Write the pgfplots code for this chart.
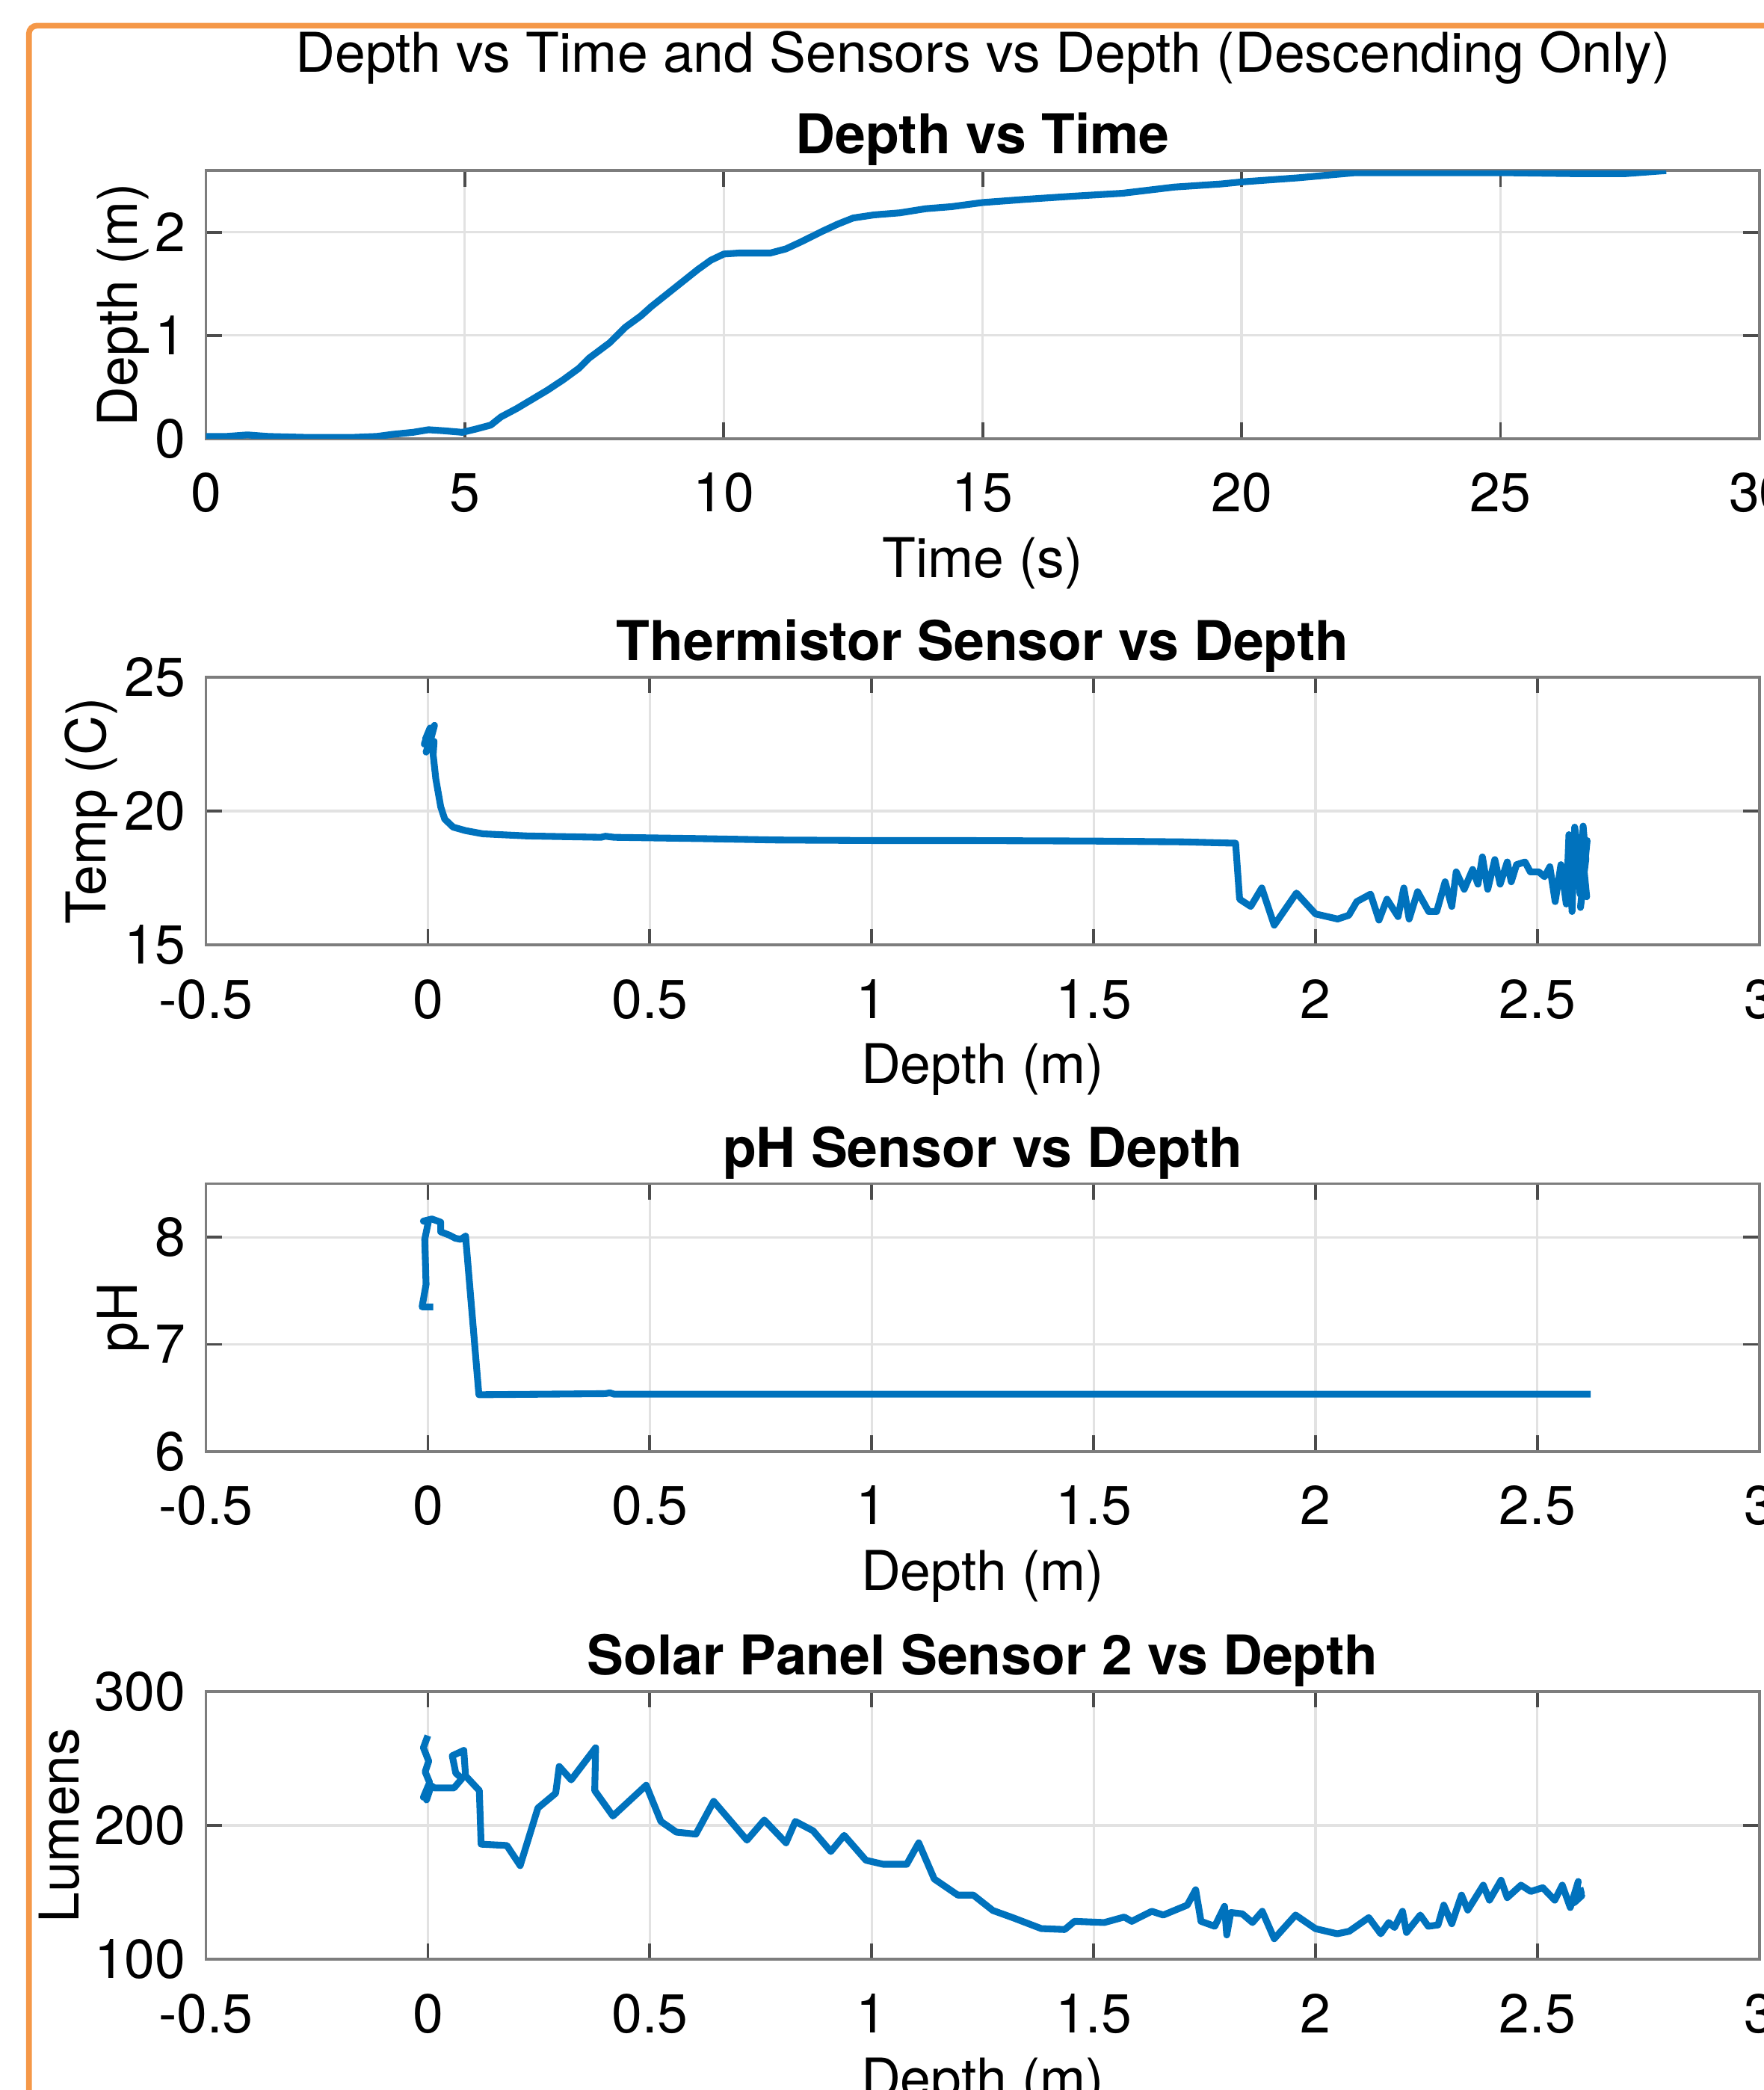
\documentclass[border=0pt]{standalone}
\usepackage{fontspec}
\setmainfont{TeX Gyre Heros}
\usepackage{pgfplots}
\pgfplotsset{compat=1.18}
\definecolor{mblue}{RGB}{0,114,189}
\definecolor{morange}{RGB}{245,152,72}
\definecolor{mgrid}{RGB}{226,226,226}
\definecolor{maxis}{RGB}{125,125,125}
\newcommand{\mfont}{\fontsize{11.7}{14}\selectfont}
\pgfplotsset{
  mstyle/.style={
    scale only axis, width=116.55mm, height=20.1mm, anchor=south west,
    axis line style={maxis, line width=0.6pt},
    tick style={black!70, line width=0.6pt},
    major tick length=1.2mm, tick align=inside,
    grid=major, major grid style={mgrid, line width=0.5pt},
    every tick label/.append style={font=\mfont},
    xticklabel style={anchor=base, inner sep=0pt, yshift=-5.5mm},
    yticklabel style={anchor=east, inner sep=0pt, xshift=-1.45mm},
    every axis x label/.style={at={(axis description cs:0.5,0)}, anchor=base, yshift=-10.4mm, font=\mfont},
    every axis y label/.style={rotate=90, anchor=base, font=\mfont},
    every axis title/.style={at={(axis description cs:0.5,1)}, anchor=base, yshift=1.25mm, font=\mfont\bfseries},
    mline/.style={mblue, line width=1.45pt, no marks, line join=round},
  },
  dstyle/.style={
    xmin=-0.5, xmax=3, xtick={-0.5,0,0.5,1,1.5,2,2.5,3},
    xticklabels={-0.5,0,0.5,1,1.5,2,2.5,3},
    xlabel={Depth (m)},
  }
}
\begin{document}
\mfont
\begin{tikzpicture}
% Depth vs Time
\begin{axis}[mstyle, at={(15.45mm,123.9mm)},
  xmin=0, xmax=30, ymin=0, ymax=2.6,
  xtick={0,5,10,15,20,25,30}, xticklabels={0,5,10,15,20,25,30},
  ytick={0,1,2}, yticklabels={0,1,2},
  xlabel={Time (s)}, ylabel={Depth (m)},
  ylabel style={at={(axis description cs:-0.0442,0.5)}},
  title={Depth vs Time}]
\addplot[mline] coordinates {
(0,0.02) (0.4,0.02) (0.8,0.035) (1.2,0.02) (2.0,0.01) (2.8,0.01) (3.3,0.02)
(3.6,0.04) (4.0,0.06) (4.3,0.085) (4.6,0.075) (4.95,0.06) (5.2,0.09) (5.5,0.13)
(5.7,0.21) (6.0,0.29) (6.3,0.38) (6.6,0.47) (6.9,0.57) (7.2,0.68) (7.4,0.78)
(7.8,0.93) (8.1,1.08) (8.4,1.19) (8.6,1.28) (8.9,1.40) (9.2,1.52) (9.5,1.64)
(9.75,1.73) (10.0,1.79) (10.3,1.80) (10.9,1.80) (11.2,1.84) (11.5,1.91)
(11.9,2.01) (12.2,2.08) (12.5,2.14) (12.9,2.17) (13.4,2.19) (13.9,2.23)
(14.4,2.25) (15.0,2.29) (15.8,2.32) (16.7,2.35) (17.7,2.38) (18.7,2.44)
(19.6,2.47) (20.0,2.49) (21.1,2.53) (22.2,2.58) (23.5,2.58) (25.0,2.58)
(26.5,2.57) (27.4,2.57) (28.2,2.60)
};
\end{axis}
% Thermistor
\begin{axis}[mstyle, dstyle, at={(15.45mm,85.9mm)},
  ymin=15, ymax=25, ytick={15,20,25}, yticklabels={15,20,25},
  ylabel={Temp (C)}, ylabel style={at={(axis description cs:-0.0645,0.5)}},
  title={Thermistor Sensor vs Depth}]
\addplot[mline] coordinates {
(0.012,22.3) (-0.005,22.7) (0.005,23.1) (-0.008,22.5) (0.015,23.2) (0.002,22.4)
(0.010,22.9) (-0.004,22.2) (0.014,22.6)
(0.012,22.1) (0.018,21.2) (0.029,20.16) (0.038,19.7) (0.057,19.4) (0.085,19.27)
(0.124,19.15) (0.225,19.07) (0.39,19.02) (0.40,19.06) (0.42,19.02) (0.5,19.0)
(0.62,18.97) (0.786,18.92) (1.0,18.9) (1.2,18.9) (1.5,18.88) (1.7,18.85)
(1.82,18.8) (1.829,16.71) (1.854,16.44) (1.879,17.13) (1.907,15.74)
(1.957,16.94) (2.0,16.16) (2.05,15.97) (2.075,16.11) (2.093,16.62) (2.124,16.9)
(2.143,15.93) (2.161,16.71) (2.186,16.06) (2.199,17.13) (2.211,15.97)
(2.23,16.99) (2.255,16.25) (2.273,16.25) (2.292,17.36) (2.307,16.44)
(2.317,17.73) (2.335,17.08) (2.354,17.82) (2.366,17.27) (2.376,18.29)
(2.388,17.08) (2.404,18.19) (2.416,17.27) (2.432,18.1) (2.441,17.36)
(2.453,18.0) (2.472,18.1) (2.484,17.73) (2.503,17.73) (2.516,17.55)
(2.528,17.92) (2.54,16.62) (2.553,18.0) (2.565,16.53) (2.571,19.12)
(2.578,16.25) (2.584,19.4) (2.59,18.66) (2.596,16.9) (2.603,19.44)
(2.609,18.2) (2.6,17.0) (2.612,18.9) (2.597,16.4) (2.606,17.6) (2.594,18.1)
(2.611,16.8) (2.605,17.8)
};
\end{axis}
% pH
\begin{axis}[mstyle, dstyle, at={(15.45mm,47.9mm)},
  ymin=6, ymax=8.5, ytick={6,7,8}, yticklabels={6,7,8},
  ylabel={pH}, ylabel style={at={(axis description cs:-0.0442,0.5)}},
  title={pH Sensor vs Depth}]
\addplot[mline] coordinates {
(0.012,7.35) (-0.013,7.35) (-0.004,7.56) (-0.007,7.98) (0.001,8.14) (-0.01,8.15)
(0.009,8.17) (0.029,8.14) (0.029,8.05) (0.048,8.02) (0.062,7.99) (0.074,7.98)
(0.085,8.01) (0.115,6.53) (0.4,6.54) (0.41,6.548) (0.42,6.535) (1.8,6.535)
(2.62,6.535)
};
\end{axis}
% Solar
\begin{axis}[mstyle, dstyle, at={(15.45mm,9.8mm)},
  ymin=100, ymax=300, ytick={100,200,300}, yticklabels={100,200,300},
  ylabel={Lumens}, ylabel style={at={(axis description cs:-0.0819,0.5)}},
  title={Solar Panel Sensor 2 vs Depth}]
\addplot[mline] coordinates {
(0.0,267) (-0.01,258) (0.002,248) (-0.006,240) (0.004,232) (-0.01,221)
(0.006,228) (-0.003,219) (0.006,230) (0.015,228) (0.059,228) (0.077,235)
(0.063,239) (0.055,252) (0.081,256) (0.085,237) (0.116,226) (0.12,186)
(0.178,185) (0.208,170) (0.248,213) (0.288,224) (0.296,244) (0.323,234)
(0.378,258) (0.376,226) (0.417,207) (0.492,230) (0.525,203) (0.56,195)
(0.604,193.5) (0.644,218) (0.719,189) (0.758,204) (0.807,187) (0.828,203)
(0.868,196) (0.908,180.5) (0.938,192.6) (0.987,174) (1.026,171) (1.079,171)
(1.106,187) (1.141,160) (1.194,148) (1.229,148) (1.273,136.5) (1.319,131)
(1.382,123) (1.435,122.3) (1.457,128.4) (1.524,127.5) (1.569,131.6)
(1.586,128.4) (1.631,135.9) (1.657,133.1) (1.711,140.5) (1.73,152)
(1.742,128.4) (1.773,124.7) (1.795,139.6) (1.80,118.2) (1.809,135)
(1.835,134) (1.858,127.5) (1.88,135.9) (1.907,115.4) (1.955,133.1)
(2.0,122.9) (2.049,119.1) (2.076,121) (2.12,131.2) (2.147,119.1)
(2.165,127.5) (2.178,123.8) (2.196,135.9) (2.205,120.1) (2.236,133.1)
(2.254,124.7) (2.276,125.7) (2.289,140.5) (2.307,126.6) (2.329,148)
(2.343,136.8) (2.378,155.4) (2.392,144.2) (2.418,159.1) (2.432,146.1)
(2.463,155.4) (2.485,150.7) (2.512,153.5) (2.539,144.2) (2.556,155.4)
(2.574,138.7) (2.592,158.2) (2.583,142.4) (2.600,147.5) (2.590,150.5)
(2.605,151.7)
};
\end{axis}
\node[anchor=base, font=\mfont] at (73.75mm,151.36mm) {Depth vs Time and Sensors vs Depth (Descending Only)};
\draw[morange, line width=0.43mm, rounded corners=0.6mm] (2.17mm,-5mm) -- (2.17mm,154.87mm) -- (140mm,154.87mm);
\pgfresetboundingbox
\path[use as bounding box] (0,0) rectangle (132.3mm,156.8mm);
\end{tikzpicture}
\end{document}
